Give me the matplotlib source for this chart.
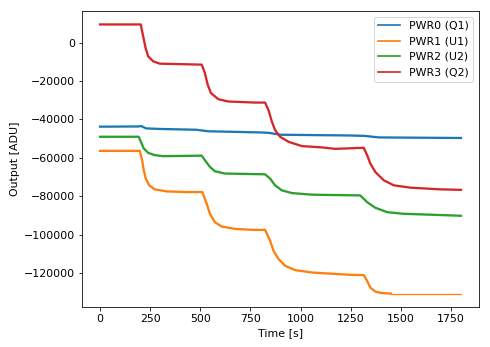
import matplotlib

matplotlib.use("Agg")
import matplotlib.pyplot as plt
import numpy as np


# Heater output traces, sampled at the corners of each settling step
pwr0_t = [0, 190, 205, 230, 300, 480, 540, 800, 840, 900, 1250, 1320, 1390, 1800]
pwr0_y = [-43800, -43700, -43500, -44700, -45000, -45400, -46200, -46800,
          -47000, -48000, -48400, -48600, -49400, -49700]

pwr1_t = [0, 198, 210, 218, 228, 245, 273, 332, 432, 510, 532, 548, 573, 607,
          673, 765, 823, 848, 865, 890, 923, 973, 1057, 1250, 1315, 1332, 1348,
          1373, 1407, 1450, 1800]
pwr1_y = [-56400, -56400, -61260, -66500, -70840, -74350, -76450, -77500,
          -77860, -77860, -83930, -89170, -93570, -95820, -97030, -97550,
          -97550, -103150, -108400, -112730, -116240, -118490, -119750,
          -120950, -121100, -124100, -127600, -129700, -130500, -130700,
          -130700]

pwr2_t = [0, 193, 207, 218, 240, 273, 315, 507, 523, 548, 573, 623, 823, 848,
          873, 907, 957, 1057, 1298, 1332, 1373, 1432, 1515, 1665, 1800]
pwr2_y = [-49060, -49060, -52520, -55130, -57440, -58640, -59170, -58900,
          -61260, -64770, -67020, -68220, -68600, -70840, -74350, -76970,
          -78380, -79220, -79600, -83100, -86030, -88330, -89170, -89700,
          -90200]

pwr3_t = [0, 203, 215, 227, 240, 265, 298, 507, 523, 537, 553, 590, 640, 773,
          823, 840, 857, 873, 898, 940, 1007, 1107, 1173, 1315, 1332, 1348,
          1373, 1415, 1465, 1548, 1698, 1800]
pwr3_y = [9425, 9425, 3300, -2780, -7170, -9800, -11000, -11500, -15900,
          -22000, -26300, -29500, -30700, -31250, -31250, -35080, -41200,
          -45550, -49060, -51680, -53930, -54600, -55350, -54800, -58640,
          -63000, -67400, -71730, -74350, -75560, -76450, -76700]

labels = ["PWR0 (Q1)", "PWR1 (U1)", "PWR2 (U2)", "PWR3 (Q2)"]
colors = ["#1f77b4", "#ff7f0e", "#2ca02c", "#d62728"]

plt.rcParams["font.size"] = 11

fig = plt.figure(figsize=(490 / 72, 347 / 72), dpi=72)
ax = fig.add_axes([82 / 490, 40 / 347, 397 / 490, 296 / 347])

series = [(pwr0_t, pwr0_y), (pwr1_t, pwr1_y), (pwr2_t, pwr2_y), (pwr3_t, pwr3_y)]
for (t, y), label, color in zip(series, labels, colors):
    t = np.asarray(t)
    y = np.asarray(y)
    if label.startswith("PWR1"):
        # the U1 channel settles cleanly after the last step
        noisy = t <= 1450
        ax.plot(t[noisy], y[noisy], color=color, lw=2.3, label=label)
        ax.plot(t[t >= 1450], y[t >= 1450], color=color, lw=1.3)
    else:
        ax.plot(t, y, color=color, lw=2.3, label=label)

ax.set_xlabel("Time [s]")
ax.set_ylabel("Output [ADU]")
ax.set_xticks([0, 250, 500, 750, 1000, 1250, 1500, 1750])
ax.set_yticks([0, -20000, -40000, -60000, -80000, -100000, -120000])

leg = ax.legend(loc="upper right")
for line in leg.get_lines():
    line.set_linewidth(1.7)

fig.savefig("out.png", dpi=72, facecolor="white")
